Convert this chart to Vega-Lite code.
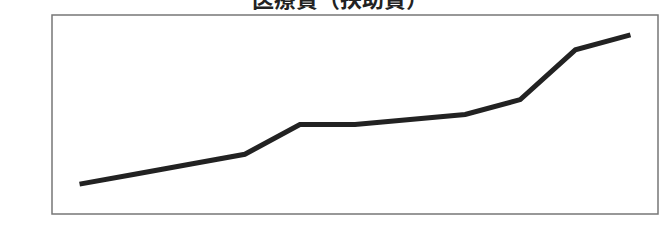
{
  "$schema": "https://vega.github.io/schema/vega-lite/v6.json",
  "autosize": "none",
  "padding": {"left": 52, "top": 15, "right": 11, "bottom": 28},
  "width": 606,
  "height": 199,
  "background": "white",
  "config": {"view": {"stroke": "#777", "strokeWidth": 1.5}},
  "layer": [
    {
      "data": {"values": [
        {"year": "H13", "value": 36},
        {"year": "H14", "value": 38},
        {"year": "H15", "value": 40},
        {"year": "H16", "value": 42},
        {"year": "H17", "value": 48},
        {"year": "H18", "value": 48},
        {"year": "H19", "value": 49},
        {"year": "H20", "value": 50},
        {"year": "H21", "value": 53},
        {"year": "H22", "value": 63},
        {"year": "H23", "value": 66}
      ]},
      "mark": {"type": "line", "color": "#222", "strokeWidth": 5, "strokeJoin": "miter"},
      "encoding": {
        "x": {"field": "year", "type": "ordinal", "scale": {"type": "point", "padding": 0.5},
          "axis": {"title": null, "labelAngle": 0, "domain": false, "ticks": false, "grid": false,
            "labelExpr": "indexof(['H13','H15','H17','H19','H21','H23'], datum.value) >= 0 ? datum.value : ''",
            "labelFont": "Liberation Sans", "labelFontSize": 15, "labelColor": "#222", "labelPadding": 8}},
        "y": {"field": "value", "type": "quantitative", "scale": {"domain": [30, 70], "nice": false, "zero": false},
          "axis": {"title": null, "values": [30,35,40,45,50,55,60,65,70], "tickCount": 9, "domain": false, "ticks": false,
            "grid": true, "gridColor": "#222", "gridWidth": 1, "gridOpacity": 1,
            "labelFont": "Liberation Sans", "labelFontSize": 17, "labelColor": "#222", "labelPadding": 8}}
      }
    },
    {
      "data": {"values": [{"label": "医療費（扶助費）"}]},
      "mark": {"type": "text", "font": "Noto Sans CJK JP", "fontSize": 22, "fontWeight": "bold", "color": "#222", "baseline": "alphabetic", "align": "center", "dx": -15},
      "encoding": {
        "x": {"datum": "H18", "type": "ordinal", "axis": null},
        "y": {"datum": 71.6, "type": "quantitative", "axis": null},
        "text": {"field": "label"}
      }
    }
  ]
}
